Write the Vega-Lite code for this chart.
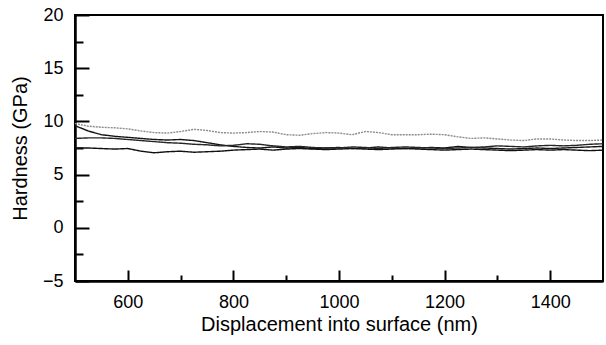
{
 "$schema": "https://vega.github.io/schema/vega-lite/v6.json",
 "width": 528, "height": 266,
 "autosize": {"type": "none"},
 "padding": {"left": 75, "top": 15, "right": 3, "bottom": 64},
 "background": "white",
 "config": {
  "view": {"stroke": "black", "strokeWidth": 2},
  "font": "Liberation Sans",
  "axis": {"domainColor": "black", "domainWidth": 2.5, "tickColor": "black", "tickWidth": 2, "labelFontSize": 18, "labelColor": "black", "titleFontSize": 20, "titleFontWeight": "normal", "titleColor": "black", "grid": false, "labelFont": "Liberation Sans", "titleFont": "Liberation Sans"}
 },
 "datasets": {
  "curves": [
   {"d":500,"s":"A","h":9.8},{"d":525,"s":"A","h":9.55},{"d":550,"s":"A","h":9.45},{"d":575,"s":"A","h":9.4},{"d":600,"s":"A","h":9.3},{"d":625,"s":"A","h":9.1},{"d":650,"s":"A","h":8.95},{"d":675,"s":"A","h":8.9},{"d":700,"s":"A","h":9.05},{"d":725,"s":"A","h":9.25},{"d":750,"s":"A","h":9.15},{"d":775,"s":"A","h":8.95},{"d":800,"s":"A","h":8.9},{"d":825,"s":"A","h":8.95},{"d":850,"s":"A","h":9.05},{"d":875,"s":"A","h":9.0},{"d":900,"s":"A","h":8.75},{"d":925,"s":"A","h":8.7},{"d":950,"s":"A","h":8.85},{"d":975,"s":"A","h":8.95},{"d":1000,"s":"A","h":8.9},{"d":1025,"s":"A","h":8.75},{"d":1050,"s":"A","h":9.05},{"d":1075,"s":"A","h":8.95},{"d":1100,"s":"A","h":8.75},{"d":1125,"s":"A","h":8.75},{"d":1150,"s":"A","h":8.75},{"d":1175,"s":"A","h":8.8},{"d":1200,"s":"A","h":8.75},{"d":1225,"s":"A","h":8.55},{"d":1250,"s":"A","h":8.4},{"d":1275,"s":"A","h":8.45},{"d":1300,"s":"A","h":8.35},{"d":1325,"s":"A","h":8.25},{"d":1350,"s":"A","h":8.2},{"d":1375,"s":"A","h":8.35},{"d":1400,"s":"A","h":8.35},{"d":1425,"s":"A","h":8.25},{"d":1450,"s":"A","h":8.2},{"d":1475,"s":"A","h":8.2},{"d":1500,"s":"A","h":8.25},
   {"d":500,"s":"B","h":9.6},{"d":525,"s":"B","h":9.1},{"d":550,"s":"B","h":8.75},{"d":575,"s":"B","h":8.6},{"d":600,"s":"B","h":8.5},{"d":625,"s":"B","h":8.4},{"d":650,"s":"B","h":8.3},{"d":675,"s":"B","h":8.25},{"d":700,"s":"B","h":8.3},{"d":725,"s":"B","h":8.2},{"d":750,"s":"B","h":8.0},{"d":775,"s":"B","h":7.8},{"d":800,"s":"B","h":7.65},{"d":825,"s":"B","h":7.55},{"d":850,"s":"B","h":7.5},{"d":875,"s":"B","h":7.6},{"d":900,"s":"B","h":7.5},{"d":925,"s":"B","h":7.55},{"d":950,"s":"B","h":7.45},{"d":975,"s":"B","h":7.5},{"d":1000,"s":"B","h":7.55},{"d":1025,"s":"B","h":7.45},{"d":1050,"s":"B","h":7.5},{"d":1075,"s":"B","h":7.6},{"d":1100,"s":"B","h":7.5},{"d":1125,"s":"B","h":7.45},{"d":1150,"s":"B","h":7.5},{"d":1175,"s":"B","h":7.55},{"d":1200,"s":"B","h":7.5},{"d":1225,"s":"B","h":7.65},{"d":1250,"s":"B","h":7.55},{"d":1275,"s":"B","h":7.5},{"d":1300,"s":"B","h":7.45},{"d":1325,"s":"B","h":7.4},{"d":1350,"s":"B","h":7.45},{"d":1375,"s":"B","h":7.5},{"d":1400,"s":"B","h":7.45},{"d":1425,"s":"B","h":7.5},{"d":1450,"s":"B","h":7.55},{"d":1475,"s":"B","h":7.6},{"d":1500,"s":"B","h":7.65},
   {"d":500,"s":"C","h":8.4},{"d":525,"s":"C","h":8.45},{"d":550,"s":"C","h":8.45},{"d":575,"s":"C","h":8.4},{"d":600,"s":"C","h":8.3},{"d":625,"s":"C","h":8.2},{"d":650,"s":"C","h":8.1},{"d":675,"s":"C","h":8.0},{"d":700,"s":"C","h":7.95},{"d":725,"s":"C","h":7.85},{"d":750,"s":"C","h":7.8},{"d":775,"s":"C","h":7.7},{"d":800,"s":"C","h":7.75},{"d":825,"s":"C","h":7.9},{"d":850,"s":"C","h":7.85},{"d":875,"s":"C","h":7.7},{"d":900,"s":"C","h":7.6},{"d":925,"s":"C","h":7.65},{"d":950,"s":"C","h":7.55},{"d":975,"s":"C","h":7.5},{"d":1000,"s":"C","h":7.5},{"d":1025,"s":"C","h":7.6},{"d":1050,"s":"C","h":7.55},{"d":1075,"s":"C","h":7.45},{"d":1100,"s":"C","h":7.55},{"d":1125,"s":"C","h":7.6},{"d":1150,"s":"C","h":7.55},{"d":1175,"s":"C","h":7.5},{"d":1200,"s":"C","h":7.45},{"d":1225,"s":"C","h":7.5},{"d":1250,"s":"C","h":7.55},{"d":1275,"s":"C","h":7.6},{"d":1300,"s":"C","h":7.7},{"d":1325,"s":"C","h":7.65},{"d":1350,"s":"C","h":7.6},{"d":1375,"s":"C","h":7.7},{"d":1400,"s":"C","h":7.75},{"d":1425,"s":"C","h":7.7},{"d":1450,"s":"C","h":7.75},{"d":1475,"s":"C","h":7.85},{"d":1500,"s":"C","h":7.9},
   {"d":500,"s":"D","h":7.5},{"d":525,"s":"D","h":7.5},{"d":550,"s":"D","h":7.45},{"d":575,"s":"D","h":7.4},{"d":600,"s":"D","h":7.45},{"d":625,"s":"D","h":7.2},{"d":650,"s":"D","h":7.05},{"d":675,"s":"D","h":7.15},{"d":700,"s":"D","h":7.2},{"d":725,"s":"D","h":7.1},{"d":750,"s":"D","h":7.15},{"d":775,"s":"D","h":7.2},{"d":800,"s":"D","h":7.3},{"d":825,"s":"D","h":7.35},{"d":850,"s":"D","h":7.4},{"d":875,"s":"D","h":7.3},{"d":900,"s":"D","h":7.4},{"d":925,"s":"D","h":7.45},{"d":950,"s":"D","h":7.4},{"d":975,"s":"D","h":7.35},{"d":1000,"s":"D","h":7.4},{"d":1025,"s":"D","h":7.45},{"d":1050,"s":"D","h":7.4},{"d":1075,"s":"D","h":7.35},{"d":1100,"s":"D","h":7.4},{"d":1125,"s":"D","h":7.45},{"d":1150,"s":"D","h":7.4},{"d":1175,"s":"D","h":7.35},{"d":1200,"s":"D","h":7.3},{"d":1225,"s":"D","h":7.35},{"d":1250,"s":"D","h":7.4},{"d":1275,"s":"D","h":7.35},{"d":1300,"s":"D","h":7.3},{"d":1325,"s":"D","h":7.25},{"d":1350,"s":"D","h":7.3},{"d":1375,"s":"D","h":7.35},{"d":1400,"s":"D","h":7.3},{"d":1425,"s":"D","h":7.35},{"d":1450,"s":"D","h":7.3},{"d":1475,"s":"D","h":7.25},{"d":1500,"s":"D","h":7.3}
  ]
 },
 "data": {"name": "curves"},
 "layer": [
  {
   "mark": {"type": "line", "strokeWidth": 1.4},
   "encoding": {
    "x": {"field": "d", "type": "quantitative", "scale": {"domain": [500, 1500], "nice": false, "zero": false}, "axis": {"orient": "bottom", "values": [600, 800, 1000, 1200, 1400], "format": "d", "tickSize": -11, "labelPadding": 23, "title": "Displacement into surface (nm)", "titlePadding": 3}},
    "y": {"field": "h", "type": "quantitative", "scale": {"domain": [-5, 20], "nice": false, "zero": false}, "axis": {"orient": "left", "values": [-5, 0, 5, 10, 15, 20], "format": "d", "tickSize": -14, "labelPadding": 26, "title": "Hardness (GPa)", "titlePadding": 12}},
    "color": {"field": "s", "type": "nominal", "scale": {"domain": ["A", "B", "C", "D"], "range": ["#8c8c8c", "#151515", "#262626", "#111111"]}, "legend": null},
    "strokeDash": {"field": "s", "type": "nominal", "scale": {"domain": ["A", "B", "C", "D"], "range": [[2, 1], [1, 0], [1, 0], [1, 0]]}, "legend": null}
   }
  },
  {
   "mark": {"type": "point", "opacity": 0},
   "encoding": {
    "x": {"field": "d", "type": "quantitative", "scale": {"domain": [500, 1500], "nice": false, "zero": false}, "axis": {"orient": "bottom", "values": [700, 900, 1100, 1300], "tickSize": -6, "labels": false, "domain": false, "title": null}},
    "y": {"field": "h", "type": "quantitative", "scale": {"domain": [-5, 20], "nice": false, "zero": false}, "axis": {"orient": "left", "values": [-2.5, 2.5, 7.5, 12.5, 17.5], "tickSize": -8, "labels": false, "domain": false, "title": null}}
   }
  }
 ],
 "resolve": {"axis": {"x": "independent", "y": "independent"}}
}
